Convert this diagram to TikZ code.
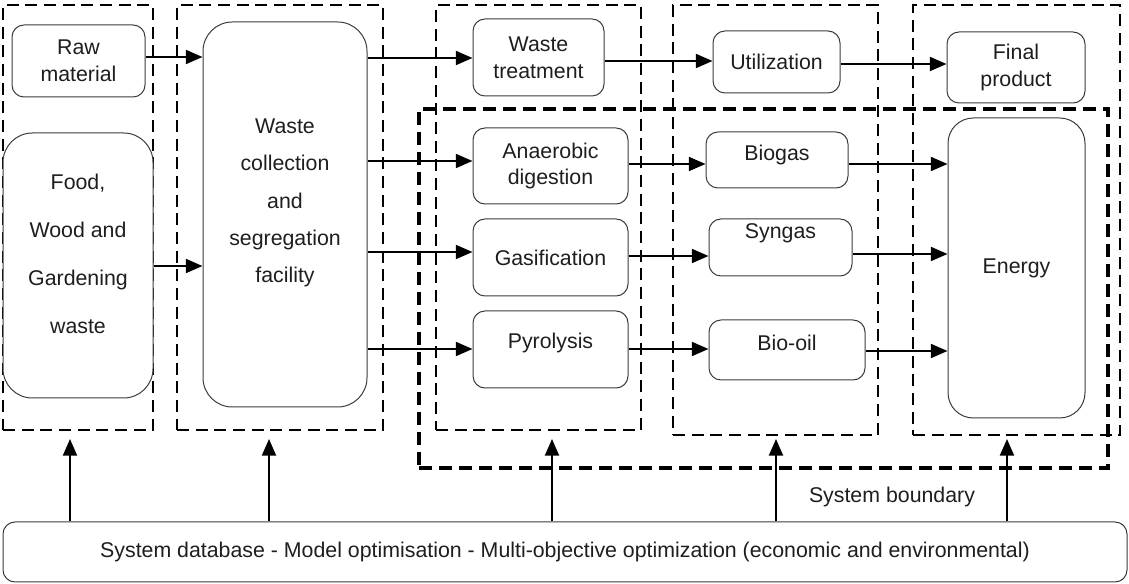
\documentclass[tikz,border=0pt]{standalone}
\usepackage{fontspec}
\setmainfont{Liberation Sans}
\usetikzlibrary{arrows.meta,fit}
\definecolor{edge}{HTML}{3C3C3C}
\definecolor{ink}{HTML}{1E1E1E}
\begin{document}
\begin{tikzpicture}[x=0.75pt,y=-0.75pt,
  zone/.style={draw=black, line width=1.5pt, dash pattern=on 9pt off 5pt, inner sep=0pt},
  boundary/.style={draw=black, line width=3pt, dash pattern=on 10pt off 5pt, inner sep=0pt},
  box/.style={draw=edge, line width=0.75pt, fill=white, rounded corners=9pt, inner sep=0pt},
  tall/.style={box, rounded corners=22pt},
  txt/.style={align=center, text=ink, font=\fontsize{16}{20}\selectfont, inner sep=0pt},
  arr/.style={line width=1.5pt, -{Triangle[length=12.5pt,width=10.5pt]}}]
\useasboundingbox (0,0) rectangle (1129,584);

% stage zones
\node[zone, fit={(3,5) (153,430)}] (z1) {};
\node[zone, fit={(177,5) (383,430)}] (z2) {};
\node[zone, fit={(436,5) (641,430)}] (z3) {};
\node[zone, fit={(673,5) (878,435)}] (z4) {};
\node[zone, fit={(913,5) (1120,435)}] (z5) {};
% system boundary
\node[boundary, fit={(419,109) (1108,468)}] (sb) {};
\node[txt] (sblabel) at (892,497) {System boundary};

% process boxes (text set as centred labels)
\node[box, fit={(12,25) (145,97)}, label={[txt]center:Raw\\material}] (raw) {};
\node[tall, fit={(3,133) (153,398)},
  label={[txt, font=\fontsize{16}{36}\selectfont, yshift=9pt]center:Food,\\Wood and\\Gardening\\waste}] (food) {};
\node[tall, fit={(203,22) (367,407)},
  label={[txt, font=\fontsize{16}{28}\selectfont, yshift=8.6pt]center:Waste\\collection\\and\\segregation\\facility}] (wc) {};
\node[box, fit={(473,19) (604,96)}, label={[txt]center:Waste\\treatment}] (wt) {};
\node[box, fit={(473,128) (628,204)}, label={[txt]center:Anaerobic\\digestion}] (ad) {};
\node[box, fit={(473,219) (628,296)}, label={[txt]center:Gasification}] (gas) {};
\node[box, fit={(473,311) (628,388)}, label={[txt, yshift=4.9pt]center:Pyrolysis}] (pyr) {};
\node[box, fit={(713,31) (840,93)}, label={[txt]center:Utilization}] (util) {};
\node[box, fit={(706,132) (848,188)}, label={[txt, yshift=3.7pt]center:Biogas}] (bio) {};
\node[box, fit={(709,219) (852,276)}, label={[txt, yshift=10.9pt]center:Syngas}] (syn) {};
\node[box, fit={(709,320) (865,380)}, label={[txt, yshift=5.2pt]center:Bio-oil}] (oil) {};
\node[box, fit={(947,32) (1085,103)}, label={[txt]center:Final\\product}] (fin) {};
\node[tall, rounded corners=19pt, fit={(948,118) (1085,418)}, label={[txt]center:Energy}] (en) {};
\node[box, fit={(3,522) (1127,582)},
  label={[txt]center:System database - Model optimisation - Multi-objective optimization (economic and environmental)}] (sys) {};

% material and energy flows
\draw[arr] (raw.east |- 0,57) -- (wc.west |- 0,57);
\draw[arr] (food.east |- 0,266) -- (wc.west |- 0,266);
\draw[arr] (wc.east |- 0,58) -- (wt.west |- 0,58);
\draw[arr] (wc.east |- 0,161) -- (ad.west |- 0,161);
\draw[arr] (wc.east |- 0,252) -- (gas.west |- 0,252);
\draw[arr] (wc.east |- 0,349) -- (pyr.west |- 0,349);
\draw[arr] (wt.east |- 0,61) -- (util.west |- 0,61);
\draw[arr] (ad.east |- 0,164) -- (bio.west |- 0,164);
\draw[arr] (gas.east |- 0,256) -- (syn.west |- 0,256);
\draw[arr] (pyr.east |- 0,349) -- (oil.west |- 0,349);
\draw[arr] (util.east |- 0,64) -- (fin.west |- 0,64);
\draw[arr] (bio.east |- 0,164) -- (en.west |- 0,164);
\draw[arr] (syn.east |- 0,254) -- (en.west |- 0,254);
\draw[arr] (oil.east |- 0,351) -- (en.west |- 0,351);

% decision support feeding every stage
\coordinate (t1) at (70,439);
\coordinate (t2) at (269,439);
\coordinate (t3) at (552,439);
\coordinate (t4) at (776,439);
\coordinate (t5) at (1007,439);
\foreach \t in {t1,t2,t3,t4,t5}
  \draw[arr] (sys.north -| \t) -- (\t);
\end{tikzpicture}
\end{document}
